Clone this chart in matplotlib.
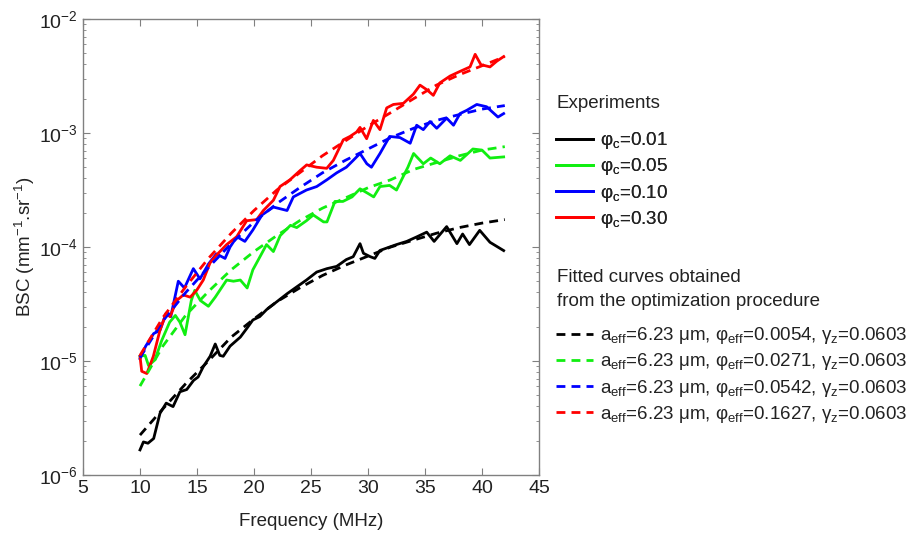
import matplotlib
matplotlib.use('Agg')
import matplotlib.pyplot as plt
import numpy as np

plt.rcParams['font.family'] = ['Liberation Sans', 'DejaVu Sans']
plt.rcParams['mathtext.fontset'] = 'custom'
plt.rcParams['mathtext.rm'] = 'Liberation Sans'
plt.rcParams['mathtext.it'] = 'Liberation Sans'
plt.rcParams['mathtext.default'] = 'rm'

# ---- experiments (solid) ----
f_k = [10.0, 10.3, 10.7, 11.2, 11.75, 12.3, 12.9, 13.5, 14.1, 14.7, 15.1, 15.55,
       16.15, 16.6, 17.0, 17.3, 17.9, 18.8, 19.4, 19.9, 20.5, 21.1, 22.0, 22.9,
       23.75, 24.6, 25.5, 26.4, 27.25, 28.1, 28.7, 29.3, 29.6, 30.2, 30.6, 31.05,
       31.9, 32.5, 33.4, 34.3, 35.15, 35.8, 36.9, 37.8, 38.3, 38.9, 39.8, 40.7, 41.9]
bsc_k = [1.66e-6, 1.95e-6, 1.90e-6, 2.09e-6, 3.47e-6, 4.27e-6, 3.98e-6, 5.37e-6,
         5.62e-6, 6.76e-6, 7.24e-6, 8.91e-6, 1.10e-5, 1.41e-5, 1.12e-5, 1.10e-5,
         1.35e-5, 1.62e-5, 1.95e-5, 2.29e-5, 2.45e-5, 2.82e-5, 3.31e-5, 3.89e-5,
         4.47e-5, 5.13e-5, 6.03e-5, 6.46e-5, 6.76e-5, 7.76e-5, 8.22e-5, 1.07e-4,
         8.81e-5, 8.22e-5, 7.94e-5, 9.33e-5, 1.00e-4, 1.05e-4, 1.12e-4, 1.23e-4,
         1.35e-4, 1.12e-4, 1.51e-4, 1.07e-4, 1.30e-4, 1.05e-4, 1.40e-4, 1.10e-4, 9.3e-5]

f_g = [10.0, 10.45, 10.75, 11.3, 11.9, 12.6, 13.1, 13.5, 13.95, 14.5, 14.8, 15.3,
       16.0, 16.6, 17.0, 17.6, 18.2, 18.8, 19.4, 19.9, 20.5, 21.1, 21.7, 22.3,
       23.2, 23.75, 24.6, 25.2, 26.1, 26.4, 27.1, 27.8, 28.6, 29.3, 30.0, 30.5,
       31.05, 31.9, 32.5, 33.1, 33.5, 34.0, 34.85, 35.5, 36.3, 37.2, 38.1, 39.2,
       40.0, 40.7, 41.9]
bsc_g = [1.10e-5, 1.12e-5, 9.12e-6, 1.02e-5, 1.51e-5, 2.19e-5, 2.51e-5, 2.19e-5,
         1.70e-5, 3.39e-5, 4.17e-5, 3.39e-5, 3.02e-5, 3.63e-5, 4.17e-5, 5.13e-5,
         5.01e-5, 5.13e-5, 4.37e-5, 6.31e-5, 8.13e-5, 1.05e-4, 9.12e-5, 1.26e-4,
         1.55e-4, 1.48e-4, 1.70e-4, 1.91e-4, 1.66e-4, 1.66e-4, 2.51e-4, 2.51e-4,
         2.75e-4, 3.24e-4, 2.95e-4, 2.75e-4, 3.39e-4, 3.47e-4, 3.16e-4, 4.17e-4,
         5.01e-4, 6.61e-4, 5.37e-4, 6.03e-4, 5.37e-4, 6.31e-4, 5.75e-4, 7.24e-4,
         7.08e-4, 6.03e-4, 6.17e-4]

f_b = [10.0, 10.5, 11.2, 11.75, 12.3, 12.7, 13.36, 13.9, 14.68, 15.26, 16.0, 16.7,
       17.46, 17.9, 18.5, 19.2, 19.9, 20.7, 21.7, 22.9, 23.45, 24.6, 25.5, 26.4,
       27.25, 28.1, 28.7, 29.3, 29.9, 30.3, 31.05, 31.9, 32.8, 33.7, 34.27, 34.85,
       35.44, 36.03, 36.9, 37.5, 38.07, 38.66, 39.54, 40.4, 41.4, 41.9]
bsc_b = [1.05e-5, 1.35e-5, 1.74e-5, 1.86e-5, 2.63e-5, 2.45e-5, 5.01e-5, 4.37e-5,
         6.46e-5, 5.25e-5, 7.08e-5, 8.71e-5, 7.94e-5, 1.00e-4, 1.23e-4, 1.12e-4,
         1.41e-4, 1.91e-4, 2.24e-4, 2.09e-4, 2.75e-4, 3.16e-4, 3.39e-4, 3.89e-4,
         4.47e-4, 5.01e-4, 5.75e-4, 6.61e-4, 5.37e-4, 5.01e-4, 6.61e-4, 9.33e-4,
         9.12e-4, 8.13e-4, 1.17e-3, 1.07e-3, 1.26e-3, 1.10e-3, 1.35e-3, 1.17e-3,
         1.48e-3, 1.58e-3, 1.78e-3, 1.70e-3, 1.38e-3, 1.48e-3]

f_r = [10.0, 10.15, 10.6, 11.17, 11.75, 12.3, 12.63, 13.22, 13.8, 14.4, 14.97,
       15.55, 16.14, 16.72, 17.6, 18.48, 19.36, 20.24, 20.82, 21.7, 22.28, 23.16,
       24.04, 24.62, 25.5, 26.38, 26.96, 27.83, 28.42, 29.0, 29.3, 29.88, 30.47,
       31.05, 31.64, 32.23, 33.1, 33.98, 34.56, 35.15, 35.73, 36.3, 37.2, 38.07,
       38.95, 39.4, 39.9, 40.7, 41.3, 41.9]
bsc_r = [1.10e-5, 8.13e-6, 7.76e-6, 1.10e-5, 1.86e-5, 2.63e-5, 2.45e-5, 3.39e-5,
         3.80e-5, 3.63e-5, 4.17e-5, 5.13e-5, 7.24e-5, 8.51e-5, 1.05e-4, 1.23e-4,
         1.70e-4, 1.74e-4, 2.09e-4, 2.57e-4, 3.39e-4, 3.89e-4, 4.68e-4, 5.25e-4,
         5.01e-4, 4.90e-4, 5.75e-4, 8.71e-4, 9.33e-4, 1.02e-3, 1.12e-3, 8.91e-4,
         1.29e-3, 1.07e-3, 1.66e-3, 1.78e-3, 1.82e-3, 2.19e-3, 2.63e-3, 2.40e-3,
         2.14e-3, 2.75e-3, 3.16e-3, 3.47e-3, 3.80e-3, 4.90e-3, 3.98e-3, 3.80e-3,
         4.27e-3, 4.68e-3]

# ---- fitted curves (dashed) ----
f_fit = [10, 12, 14, 16, 18, 20, 22, 24, 26, 28, 30, 32, 34, 36, 38, 40, 42]
fit_k = [2.24e-6, 3.80e-6, 6.31e-6, 1.00e-5, 1.62e-5, 2.34e-5, 3.31e-5, 4.37e-5,
         5.62e-5, 6.92e-5, 8.32e-5, 1.00e-4, 1.15e-4, 1.32e-4, 1.48e-4, 1.62e-4, 1.74e-4]
fit_g = [6.03e-6, 1.35e-5, 2.51e-5, 4.07e-5, 6.31e-5, 9.12e-5, 1.26e-4, 1.70e-4,
         2.19e-4, 2.69e-4, 3.31e-4, 3.89e-4, 4.79e-4, 5.50e-4, 6.31e-4, 7.08e-4, 7.59e-4]
fit_b = [1.07e-5, 2.24e-5, 3.98e-5, 6.61e-5, 1.07e-4, 1.66e-4, 2.40e-4, 3.31e-4,
         4.47e-4, 5.75e-4, 7.24e-4, 9.12e-4, 1.10e-3, 1.29e-3, 1.45e-3, 1.62e-3, 1.74e-3]
fit_r = [1.12e-5, 2.40e-5, 4.47e-5, 7.94e-5, 1.32e-4, 2.09e-4, 3.16e-4, 4.47e-4,
         6.31e-4, 8.51e-4, 1.15e-3, 1.51e-3, 2.00e-3, 2.63e-3, 3.24e-3, 3.89e-3, 4.68e-3]

exp_labels = [r'φ$_\mathrm{c}$=0.01', r'φ$_\mathrm{c}$=0.05',
              r'φ$_\mathrm{c}$=0.10', r'φ$_\mathrm{c}$=0.30']
phi_eff = ['0.0054', '0.0271', '0.0542', '0.1627']
fit_labels = [r'a$_\mathrm{eff}$=6.23 μm, φ$_\mathrm{eff}$=' + p + r', γ$_\mathrm{z}$=0.0603'
              for p in phi_eff]

colors = ['#000000', '#11ee11', '#0000ff', '#ff0000']
TXT = '#222222'
FS = 13.5

fig = plt.figure(figsize=(9.16, 5.37), dpi=100)
ax = fig.add_axes([83 / 916, 62 / 537, 456 / 916, 456 / 537])

exp_f = [f_k, f_g, f_b, f_r]
exp_v = [bsc_k, bsc_g, bsc_b, bsc_r]
fit_v = [fit_k, fit_g, fit_b, fit_r]

h_exp = []
h_fit = []
for i in range(4):
    l, = ax.plot(exp_f[i], exp_v[i], color=colors[i], lw=2.0, solid_joinstyle='round')
    h_exp.append(l)
for i in range(4):
    l, = ax.plot(f_fit, fit_v[i], color=colors[i], lw=2.0, dashes=(3.2, 2.2))
    h_fit.append(l)

ax.set_yscale('log')
ax.set_xlim(5, 45)
ax.set_ylim(1e-6, 1e-2)
ax.set_xticks(range(5, 50, 5))
ax.tick_params(which='both', direction='in', top=True, right=True,
               colors='#808080', labelcolor=TXT, labelsize=14)
ax.tick_params(which='major', length=5, width=0.8)
ax.tick_params(which='minor', length=2.5, width=0.6)
ax.tick_params(axis='x', which='minor', top=False, bottom=False)
for s in ax.spines.values():
    s.set_color('#808080')
    s.set_linewidth(1.0)
ax.set_xlabel('Frequency (MHz)', fontsize=FS, color=TXT)
ax.set_ylabel('BSC (mm$^{-1}$.sr$^{-1}$)', fontsize=FS, color=TXT)
ax.xaxis.set_label_coords(0.5, -(522 - 475) / 456)
ax.yaxis.set_label_coords((25 - 83) / 456, 0.5)
ax.xaxis.label.set_va('center')
ax.yaxis.label.set_va('center')

# legend titles
fig.text(557 / 916, 1 - 103 / 537, 'Experiments', fontsize=FS, color=TXT, va='center')
fig.text(557 / 916, 1 - 278 / 537, 'Fitted curves obtained', fontsize=FS, color=TXT, va='center')
fig.text(557 / 916, 1 - 302 / 537, 'from the optimization procedure', fontsize=FS,
         color=TXT, va='center')

leg_kw = dict(loc='upper left', frameon=False, fontsize=FS, handlelength=1.97,
              handletextpad=0.37, labelspacing=0.28, borderpad=0.2, labelcolor=TXT)
leg1 = fig.legend(h_exp, exp_labels, bbox_to_anchor=(543 / 916, 1 - 117 / 537), **leg_kw)
leg2 = fig.legend(h_fit, fit_labels, bbox_to_anchor=(543 / 916, 1 - 312 / 537), **leg_kw)
fig.add_artist(leg1)

fig.savefig('out.png', dpi=100, facecolor='white')
